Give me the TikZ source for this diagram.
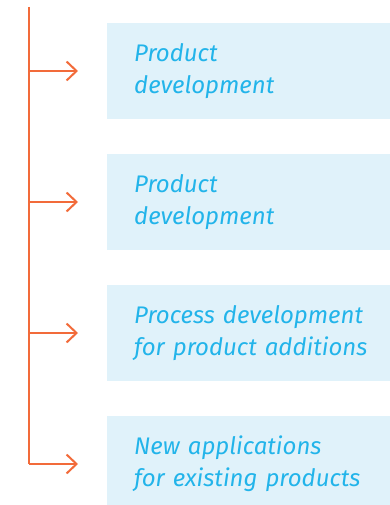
\documentclass[tikz,border=0pt]{standalone}
\usepackage{fontspec}
\setmainfont{Fira Sans}
\usetikzlibrary{arrows.meta,positioning}
\definecolor{arroworange}{HTML}{F26B3A}
\definecolor{panelblue}{HTML}{E0F2FA}
\definecolor{labelblue}{HTML}{22B4EA}
\begin{document}
\begin{tikzpicture}[x=1pt,y=-1pt,
    item/.style={fill=panelblue, text=labelblue, font=\itshape\fontsize{24}{32}\selectfont,
      minimum height=96pt, text width=270pt, inner xsep=27pt, align=left, anchor=west},
    branch/.style={draw=arroworange, line width=2pt},
    tip/.style={-{Straight Barb[length=10pt,width=19pt]}, shorten >=29pt}]
  \useasboundingbox (0,0) rectangle (389,505);
  % panels
  \node[item] (p1) at (107,71) {Product\\development};
  \node[item] (p2) at (107,202) {Product\\development};
  \node[item] (p3) at (107,333) {Process development\\for product additions};
  \node[item] (p4) at (107,464) {New applications\\for existing products};
  % trunk and branches
  \coordinate (top) at (29,7);
  \foreach \y/\n in {71/1,202/2,333/3,464/4}
    \coordinate (b\n) at (29,\y);
  \draw[branch] (top) -- (b4);
  \foreach \n in {1,...,4}
    \draw[branch,tip] (b\n) -- (p\n);
\end{tikzpicture}
\end{document}
